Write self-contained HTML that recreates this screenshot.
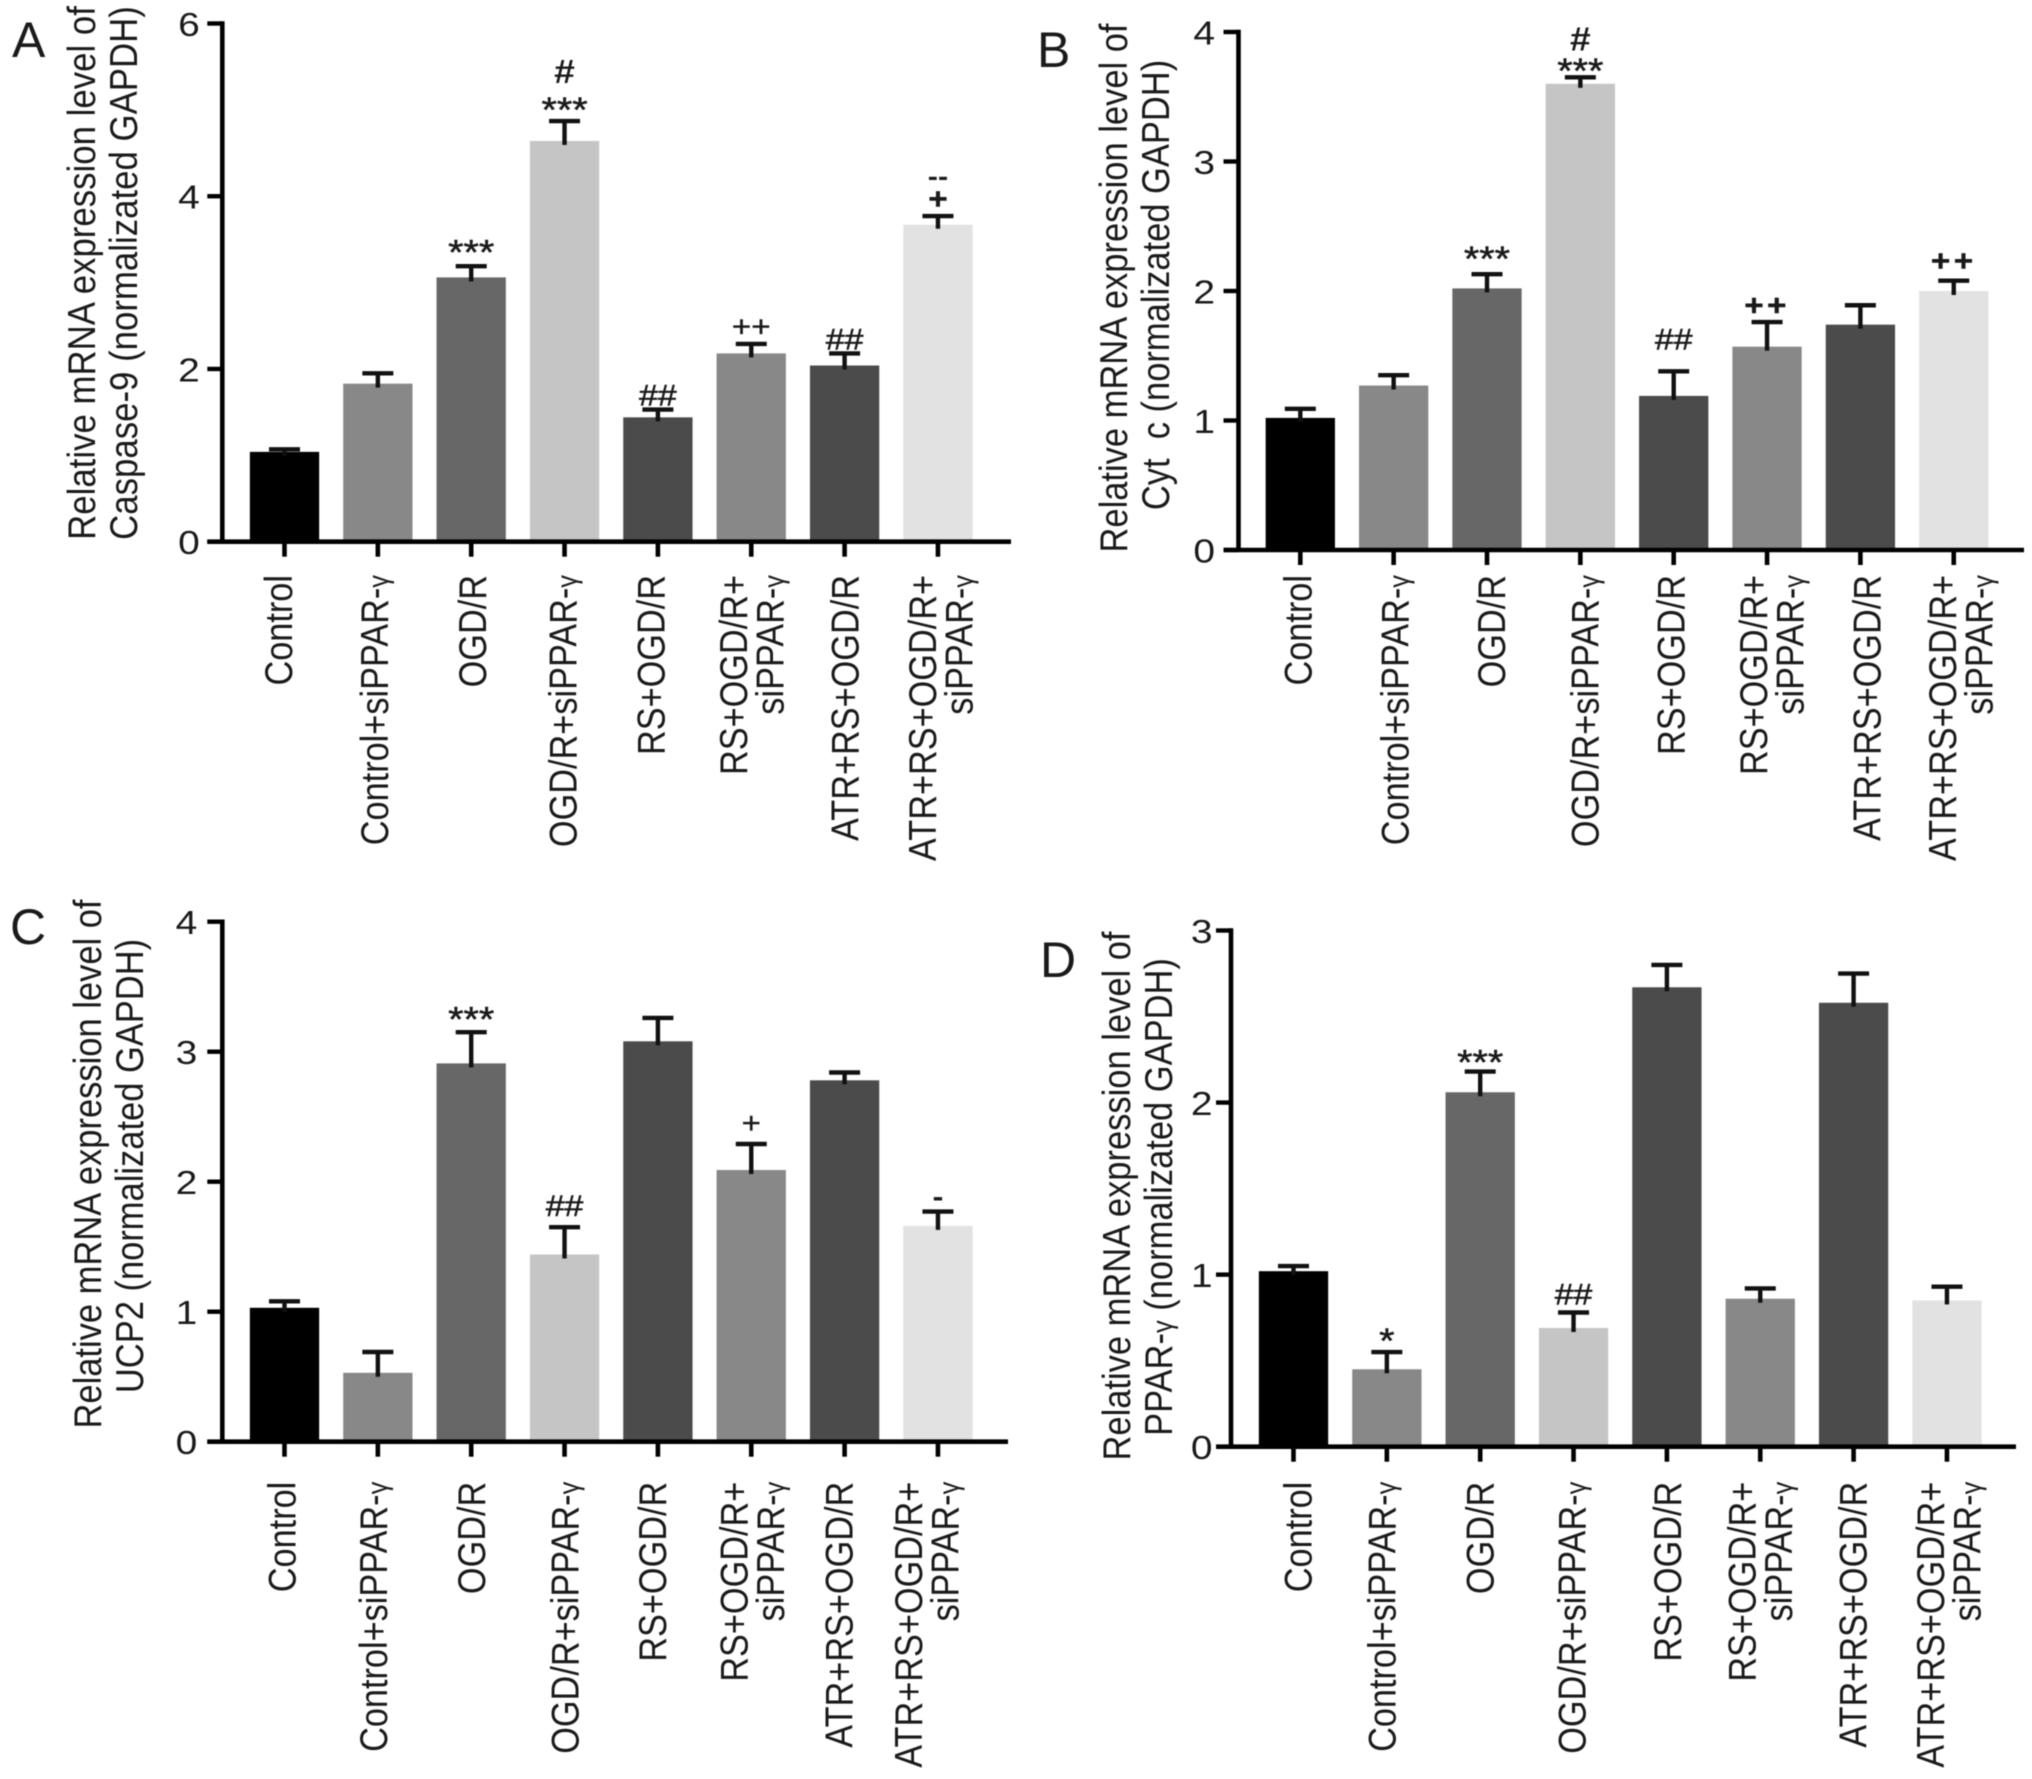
<!DOCTYPE html>
<html lang="en">
<head>
<meta charset="utf-8">
<title>Relative mRNA expression bar charts</title>
<style>
html,body{margin:0;padding:0;background:#fff;}
svg{display:block;filter:blur(0.6px);}
text{font-family:"Liberation Sans",sans-serif;fill:#1a1a1a;}
</style>
</head>
<body>
<svg id="figure" xmlns="http://www.w3.org/2000/svg" width="2032" height="1779" viewBox="0 0 2032 1779">
  <rect x="0" y="0" width="2032" height="1779" fill="#fff"/>

  <text x="12" y="57" font-size="50">A</text>
  <text x="1037" y="67" font-size="50">B</text>
  <text x="10" y="944" font-size="50">C</text>
  <text x="1040" y="977" font-size="50">D</text>

  <g text-anchor="middle">
    <text transform="translate(95,273) scale(1.13,1) rotate(-90)" font-size="34.8">Relative mRNA expression level of</text>
    <text transform="translate(137,273) scale(1.13,1) rotate(-90)" font-size="34.8">Caspase-9 (normalizated GAPDH)</text>
  </g>
  <g text-anchor="middle">
    <text transform="translate(1127,288) scale(1.13,1) rotate(-90)" font-size="34.5">Relative mRNA expression level of</text>
    <text transform="translate(1169,285) scale(1.13,1) rotate(-90)" font-size="34.5" xml:space="preserve" style="white-space:pre">Cyt  c (normalizated GAPDH)</text>
  </g>
  <g text-anchor="middle">
    <text transform="translate(101,1164) scale(1.13,1) rotate(-90)" font-size="34.5">Relative mRNA expression level of</text>
    <text transform="translate(143,1166) scale(1.13,1) rotate(-90)" font-size="34.5">UCP2 (normalizated GAPDH)</text>
  </g>
  <g text-anchor="middle">
    <text transform="translate(1130,1196) scale(1.13,1) rotate(-90)" font-size="34.5">Relative mRNA expression level of</text>
    <text transform="translate(1172,1197) scale(1.13,1) rotate(-90)" font-size="34.5">PPAR-<tspan font-size="25.5">γ</tspan> (normalizated GAPDH)</text>
  </g>
</svg>

<script>
// Shared categories ("|" marks a line break in the rotated tick label)
const categories = [
  'Control',
  'Control+siPPAR-γ',
  'OGD/R',
  'OGD/R+siPPAR-γ',
  'RS+OGD/R',
  'RS+OGD/R+|siPPAR-γ',
  'ATR+RS+OGD/R',
  'ATR+RS+OGD/R+|siPPAR-γ'
];
const barColors = ['#000000', '#888888', '#676767', '#c5c5c5', '#4b4b4b', '#888888', '#4b4b4b', '#e2e2e2'];

// Panel A: Caspase-9
const valuesA = [1.04, 1.83, 3.06, 4.64, 1.44, 2.18, 2.04, 3.67];
const errorsA = [0.03, 0.12, 0.13, 0.23, 0.09, 0.11, 0.14, 0.10];
const tickLabelsA = [0, 2, 4, 6];
// Each entry: [symbol, clearance above the error cap in axis units]
const annotationsA = [[], [], [['***', 0.25]], [['***', 0.22], ['#', 0.58]], [['##', 0.17]], [['++', 0.20]], [['##', 0.17]], [['+b', 0.20], ['--', 0.44]]];

// Panel B: Cyt c
const valuesB = [1.02, 1.27, 2.02, 3.60, 1.19, 1.57, 1.74, 2.00];
const errorsB = [0.07, 0.08, 0.11, 0.05, 0.19, 0.19, 0.15, 0.08];
const tickLabelsB = [0, 1, 2, 3, 4];
const annotationsB = [[], [], [['***', 0.18]], [['***', 0.11], ['#', 0.30]], [['##', 0.25]], [['++b', 0.13]], [], [['++b', 0.15]]];

// Panel C: UCP2
const valuesC = [1.03, 0.53, 2.91, 1.44, 3.08, 2.09, 2.78, 1.66];
const errorsC = [0.05, 0.16, 0.24, 0.21, 0.18, 0.20, 0.06, 0.11];
const tickLabelsC = [0, 1, 2, 3, 4];
const annotationsC = [[], [], [['***', 0.16]], [['##', 0.17]], [], [['+', 0.16]], [], [['-', 0.10]]];

// Panel D: PPAR-gamma
const valuesD = [1.02, 0.45, 2.06, 0.69, 2.67, 0.86, 2.58, 0.85];
const errorsD = [0.03, 0.10, 0.12, 0.09, 0.13, 0.06, 0.17, 0.08];
const tickLabelsD = [0, 1, 2, 3];
const annotationsD = [[], [['*', 0.11]], [['***', 0.10]], [['##', 0.11]], [], [], [], []];

const SVG_NS = 'http://www.w3.org/2000/svg';
const svg = document.getElementById('figure');
const TEXT_STRETCH = 1.13;

function make(parent, tag, attrs) {
  const node = document.createElementNS(SVG_NS, tag);
  for (const key in attrs) node.setAttribute(key, attrs[key]);
  parent.appendChild(node);
  return node;
}

function fillLabel(node, str, size) {
  const parts = str.split('γ');
  node.appendChild(document.createTextNode(parts[0]));
  if (parts.length > 1) {
    const greek = document.createElementNS(SVG_NS, 'tspan');
    greek.setAttribute('font-size', size * 0.74);
    greek.textContent = 'γ';
    node.appendChild(greek);
    node.appendChild(document.createTextNode(parts[1]));
  }
}

const symbolStyles = {
  '***': {text: '***', size: 35, shift: 0.57, weight: 'normal', spacing: 0, ink: 0.5},
  '*': {text: '*', size: 35, shift: 0.57, weight: 'normal', spacing: 0, ink: 0.5},
  '##': {text: '##', size: 30, shift: 0.36, weight: 'normal', spacing: 0, ink: 0.5},
  '#': {text: '#', size: 33, shift: 0.36, weight: 'bold', spacing: 0, ink: 0},
  '++': {text: '++', size: 29.5, shift: 0.34, weight: 'normal', spacing: 0, ink: 0.3},
  '++b': {text: '++', size: 29.5, shift: 0.34, weight: 'bold', spacing: 3, ink: 0.4},
  '+': {text: '+', size: 29.5, shift: 0.34, weight: 'normal', spacing: 0, ink: 0.3},
  '+b': {text: '+', size: 29.5, shift: 0.34, weight: 'bold', spacing: 0, ink: 0.4},
  '--': {text: '--', size: 27, shift: 0.27, weight: 'bold', spacing: 0, ink: 0},
  '-': {text: '-', size: 29, shift: 0.27, weight: 'bold', spacing: 0, ink: 0}
};

function drawPanel(cfg) {
  const yScale = v => cfg.y0 - (v / cfg.max) * (cfg.y0 - cfg.yTop);
  const xScale = i => cfg.first + i * cfg.step;
  const barWidth = 69.3;

  const panel = make(svg, 'g', {});
  
  

  cfg.values.forEach((value, i) => {
    const cx = xScale(i);
    const top = yScale(value);
    const capY = yScale(value + cfg.errors[i]);

    const bar = make(panel, 'rect', {x: cx - barWidth / 2, y: top, width: barWidth, height: cfg.y0 - top, fill: barColors[i]});
    
    

    const stem = make(panel, 'line', {x1: cx, x2: cx, y1: top + 4, y2: capY, stroke: '#111', 'stroke-width': 4.4});
    
    

    const cap = make(panel, 'line', {x1: cx - 15.5, x2: cx + 15.5, y1: capY, y2: capY, stroke: '#111', 'stroke-width': 4.4});
    
    

    cfg.annotations[i].forEach(entry => {
      const style = symbolStyles[entry[0]];
      const ay = yScale(value + cfg.errors[i] + entry[1]) + style.shift * style.size;
      const mark = make(panel, 'text', {
        transform: 'translate(' + cx + ',' + ay + ') scale(' + TEXT_STRETCH + ',1)',
        'font-size': style.size,
        'font-weight': style.weight,
        'letter-spacing': style.spacing,
        'text-anchor': 'middle',
        stroke: '#1a1a1a',
        'stroke-width': style.ink
      });
      
      
      mark.textContent = style.text;
    });
  });

  const yAxis = make(panel, 'line', {x1: cfg.axisX, x2: cfg.axisX, y1: cfg.yTop - 2.2, y2: cfg.y0 + 2, stroke: '#000', 'stroke-width': 4.6});
  
  

  const xAxis = make(panel, 'line', {x1: cfg.axisX - 15, x2: cfg.axisEnd, y1: cfg.y0, y2: cfg.y0, stroke: '#000', 'stroke-width': 4.6});
  
  

  cfg.ticks.forEach(tick => {
    const y = yScale(tick);
    const mark = make(panel, 'line', {x1: cfg.axisX - 15, x2: cfg.axisX, y1: y, y2: y, stroke: '#000', 'stroke-width': 4.4});
    
    

    const label = make(panel, 'text', {
      transform: 'translate(' + (cfg.axisX - cfg.digitGap) + ',' + (y + 12.3) + ') scale(1.18,1)',
      'font-size': 33,
      'text-anchor': 'end'
    });
    
    
    label.textContent = tick;
  });

  categories.forEach((name, i) => {
    const cx = xScale(i);
    const mark = make(panel, 'line', {x1: cx, x2: cx, y1: cfg.y0, y2: cfg.y0 + 15, stroke: '#000', 'stroke-width': 4.6});
    
    

    name.split('|').forEach((line, n) => {
      const bx = cx + cfg.labelNudge[i] + n * 36.5;
      const label = make(panel, 'text', {
        transform: 'translate(' + bx + ',' + cfg.labelTop + ') scale(' + TEXT_STRETCH + ',1) rotate(-90)',
        'font-size': 34.3,
        'text-anchor': 'end'
      });
      
      
      fillLabel(label, line, 34.3);
    });
  });
}

drawPanel({id: 'a', values: valuesA, errors: errorsA, ticks: tickLabelsA, annotations: annotationsA,
  max: 6, axisX: 222.3, axisEnd: 1011, y0: 541.7, yTop: 23.5, first: 284.5, step: 93.35, labelTop: 575, digitGap: 22.5,
  labelNudge: [7.5, 10, 15, 12, 6.5, -4.5, 14, -2]});
drawPanel({id: 'b', values: valuesB, errors: errorsB, ticks: tickLabelsB, annotations: annotationsB,
  max: 4, axisX: 1238.5, axisEnd: 2024, y0: 550, yTop: 32, first: 1300.3, step: 93.35, labelTop: 575, digitGap: 23.5,
  labelNudge: [11.4, 15, 18, 18, 11, 0, 20, 2]});
drawPanel({id: 'c', values: valuesC, errors: errorsC, ticks: tickLabelsC, annotations: annotationsC,
  max: 4, axisX: 222.3, axisEnd: 1008, y0: 1441.7, yTop: 921.7, first: 284.5, step: 93.35, labelTop: 1481.7, digitGap: 25,
  labelNudge: [11, 9, 14, 14, 8, -4, 8, -16]});
drawPanel({id: 'd', values: valuesD, errors: errorsD, ticks: tickLabelsD, annotations: annotationsD,
  max: 3, axisX: 1231, axisEnd: 2016, y0: 1446.7, yTop: 930.5, first: 1293.5, step: 93.35, labelTop: 1481.7, digitGap: 18.5,
  labelNudge: [18, 8.5, 13.5, 12, 14, -5, 13, -3]});
</script>
</body>
</html>
